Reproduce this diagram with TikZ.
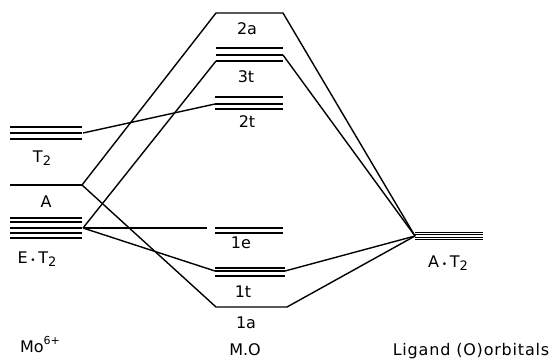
\documentclass[tikz,border=0pt]{standalone}
\usepackage{fontspec}
\setmainfont{DejaVu Sans}
\newcommand\sbs[1]{\raisebox{-0.45ex}{\fontsize{13}{13}\selectfont #1}}
\newcommand\dotsep{\,{\fontsize{9}{9}\selectfont •}\,}
\newcommand\sps[1]{\raisebox{0.85ex}{\fontsize{11}{11}\selectfont #1}}
\begin{document}
\begin{tikzpicture}[x=1pt,y=-1pt,line width=1.4pt,
  thinlvl/.style={line width=1pt},
  lbl/.style={font=\fontsize{16}{18}\selectfont, anchor=base, inner sep=0pt}]
\useasboundingbox (0,0) rectangle (553,358);
% key points
\coordinate (LT2) at (83,133);
\coordinate (LA) at (82,185);
\coordinate (LE) at (83,228);
\coordinate (aL) at (216,13);
\coordinate (aR) at (283,13);
\coordinate (tLthree) at (216,61);
\coordinate (tRthree) at (283,55);
\coordinate (tLtwo) at (215,104);
\coordinate (eL) at (207,228);
\coordinate (tLone) at (215,271);
\coordinate (tRone) at (285,271);
\coordinate (oL) at (216,307);
\coordinate (oR) at (287,307);
\coordinate (R) at (415,236);
% left levels
\foreach \y in {127,133,139} \draw (10,\y) -- (82,\y);
\draw (10,185) -- (LA);
\foreach \y in {218,222,228,233,238} \draw (10,\y) -- (82,\y);
% MO levels
\foreach \y in {48,55,61} \draw (216,\y) -- (283,\y);
\foreach \y in {97,104,109} \draw (215,\y) -- (283,\y);
\foreach \y in {228,233} \draw (215,\y) -- (283,\y);
\foreach \y in {268,271,276} \draw (215,\y) -- (285,\y);
% right levels
\foreach \y in {232,234.5,237,239.5} \draw[thinlvl] (415,\y) -- (483,\y);
% connectors
\draw (LA) -- (aL) -- (aR) -- (R);
\draw (LA) -- (oL) -- (oR) -- (R);
\draw (LE) -- (tLthree);
\draw (tRthree) -- (R);
\draw (LT2) -- (tLtwo);
\draw (LE) -- (eL);
\draw (LE) -- (tLone);
\draw (tRone) -- (R);
% labels
\node[lbl] (lT2) at (42,162) {T\sbs{2}};
\node[lbl] (lA) at (46,207) {A};
\node[lbl] (lE) at (37,263) {E\dotsep T\sbs{2}};
\node[lbl] (l2a) at (247,35) {2a};
\node[lbl] (l3t) at (246,83) {3t};
\node[lbl] (l2t) at (247,128) {2t};
\node[lbl] (l1e) at (241,248) {1e};
\node[lbl] (l1t) at (243,297) {1t};
\node[lbl] (l1a) at (246,328) {1a};
\node[lbl] (lMO) at (245,355) {M.O};
\node[lbl] (lR) at (448,267) {A\dotsep T\sbs{2}};
\node[lbl] (lMo) at (40,352) {Mo\sps{6+}};
\node[lbl,font=\fontsize{16}{18}\selectfont\addfontfeature{LetterSpace=5}] (lLig) at (471,355) {Ligand (O)orbitals};
\end{tikzpicture}
\end{document}
